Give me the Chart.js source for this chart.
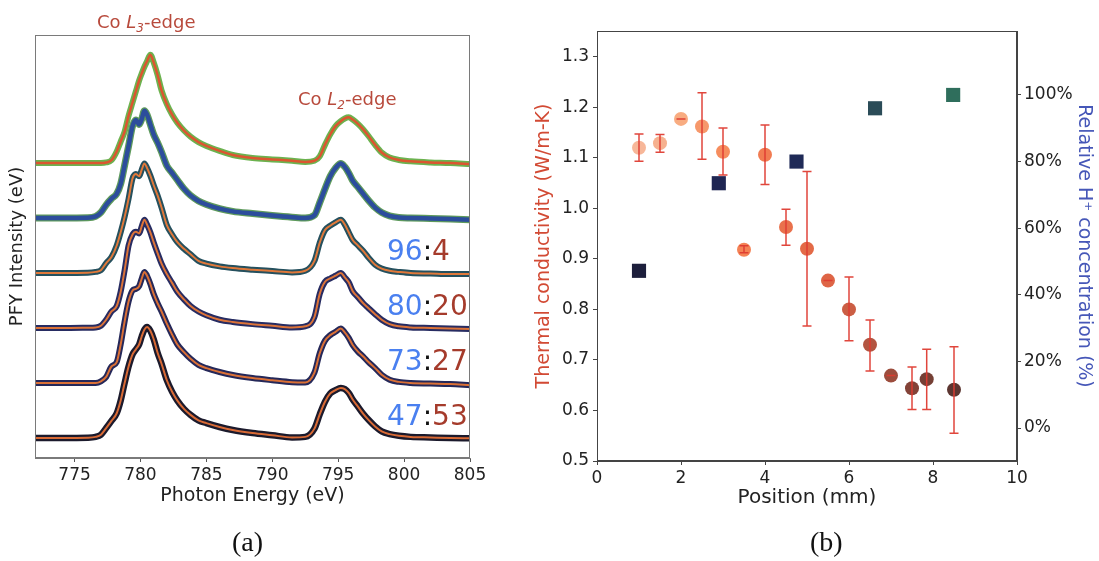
<!DOCTYPE html>
<html>
<head>
<meta charset="utf-8">
<script src="https://cdn.jsdelivr.net/npm/chart.js@4.4.1/dist/chart.umd.min.js"></script>
<style>
  html, body { margin: 0; padding: 0; background: #fff; }
  #figure { position: relative; width: 1099px; height: 561px; overflow: hidden; font-family: "DejaVu Sans", sans-serif; }
  #figure canvas { position: absolute; left: 0; top: 0; }
  .note { position: absolute; white-space: nowrap; line-height: 1; }
  .edge { font-size: 18px; color: #b84a3c; }
  .edge sub { font-size: 12px; font-style: italic; vertical-align: -4px; line-height: 0; }
  .ratio { font-size: 28px; color: #111; }
  .ratio .co { color: #4a80f0; }
  .ratio .h { color: #a53b2b; }
  .caption { font-family: "Liberation Serif", "DejaVu Serif", serif; font-size: 28px; color: #111; }
</style>
</head>
<body>
<div id="figure">
  <canvas id="pfyChart" width="1099" height="561"></canvas>
  <canvas id="kappaChart" width="1099" height="561"></canvas>

  <div class="note edge" style="left:97px; top:13px;">Co <i>L</i><sub>3</sub>-edge</div>
  <div class="note edge" style="left:298px; top:90px;">Co <i>L</i><sub>2</sub>-edge</div>

  <div class="note ratio" style="left:387px; top:237px;"><span class="co">96</span>:<span class="h">4</span></div>
  <div class="note ratio" style="left:387px; top:292px;"><span class="co">80</span>:<span class="h">20</span></div>
  <div class="note ratio" style="left:387px; top:347px;"><span class="co">73</span>:<span class="h">27</span></div>
  <div class="note ratio" style="left:387px; top:402px;"><span class="co">47</span>:<span class="h">53</span></div>

  <div class="note caption" style="left:232px; top:528px;">(a)</div>
  <div class="note caption" style="left:810px; top:528px;">(b)</div>
</div>

<script>
// ---------- (a) Co L-edge PFY spectra ----------
const energy = [772, 774, 776, 776.6, 777.0, 777.4, 777.8, 778.2, 778.5, 778.8, 779.1, 779.4, 779.65, 779.9,
  780.1, 780.3, 780.5, 780.75, 781.0, 781.3, 781.6, 782.0, 782.4, 782.8, 783.3, 783.8, 784.4, 785.0, 786.0,
  787.0, 788.5, 790.0, 791.5, 792.5, 793.2, 793.6, 794.0, 794.4, 794.8, 795.2, 795.5, 795.8, 796.1, 796.5,
  796.9, 797.3, 797.8, 798.3, 798.9, 799.6, 800.5, 802.0, 803.5, 805.0];

const pfyRefOrange = [0, 0, 0, 0, 0, 0.01, 0.05, 0.21, 0.39, 0.57, 0.86, 1.10, 1.30, 1.50, 1.63, 1.75, 1.85,
  1.97, 1.83, 1.60, 1.32, 1.07, 0.88, 0.73, 0.59, 0.48, 0.38, 0.31, 0.22, 0.145, 0.09, 0.065, 0.04, 0.02,
  0.04, 0.12, 0.33, 0.52, 0.67, 0.76, 0.81, 0.83, 0.79, 0.71, 0.61, 0.49, 0.33, 0.19, 0.10, 0.055, 0.03,
  0.01, 0.0, -0.02];

const pfyRefBlue = [0, 0, 0.005, 0.03, 0.1, 0.24, 0.35, 0.44, 0.62, 0.96, 1.31, 1.67, 1.78, 1.70, 1.80, 1.95,
  1.88, 1.70, 1.52, 1.37, 1.20, 0.95, 0.82, 0.69, 0.53, 0.41, 0.31, 0.245, 0.17, 0.12, 0.08, 0.045, 0.015,
  0.0, 0.05, 0.28, 0.53, 0.76, 0.91, 0.99, 0.93, 0.82, 0.68, 0.56, 0.44, 0.32, 0.19, 0.10, 0.04, 0.01, 0.0,
  -0.01, -0.02, -0.03];

const pfy96to4 = [0, 0, 0.005, 0.02, 0.05, 0.18, 0.29, 0.50, 0.74, 1.02, 1.35, 1.72, 1.80, 1.76, 1.88, 1.99,
  1.91, 1.77, 1.60, 1.41, 1.19, 0.87, 0.70, 0.56, 0.44, 0.34, 0.22, 0.17, 0.12, 0.09, 0.06, 0.035, 0.01,
  0.04, 0.22, 0.55, 0.78, 0.86, 0.92, 0.97, 0.88, 0.74, 0.60, 0.50, 0.40, 0.28, 0.15, 0.08, 0.04, 0.02, 0.0,
  -0.01, -0.02, -0.02];

const pfy80to20 = [0, 0, 0.005, 0.01, 0.04, 0.15, 0.30, 0.40, 0.66, 1.05, 1.50, 1.70, 1.75, 1.72, 1.85, 1.97,
  1.88, 1.74, 1.56, 1.36, 1.17, 0.98, 0.82, 0.66, 0.52, 0.40, 0.30, 0.23, 0.15, 0.11, 0.07, 0.04, 0.01,
  0.03, 0.20, 0.62, 0.84, 0.90, 0.95, 1.0, 0.92, 0.83, 0.67, 0.56, 0.45, 0.36, 0.25, 0.15, 0.07, 0.03, 0.01,
  0.0, -0.01, -0.02];

const pfy73to27 = [0, 0, 0, 0, 0.03, 0.11, 0.30, 0.38, 0.70, 1.12, 1.48, 1.68, 1.71, 1.76, 1.90, 2.02, 1.95,
  1.80, 1.62, 1.45, 1.30, 1.08, 0.88, 0.70, 0.56, 0.44, 0.33, 0.27, 0.20, 0.145, 0.09, 0.05, 0.015, 0.01,
  0.19, 0.54, 0.77, 0.87, 0.93, 0.99, 0.92, 0.82, 0.69, 0.57, 0.48, 0.38, 0.27, 0.15, 0.06, 0.02, 0.0,
  -0.01, -0.02, -0.04];

const pfy47to53 = [0, 0, 0.005, 0.02, 0.06, 0.18, 0.31, 0.45, 0.68, 1.00, 1.30, 1.52, 1.61, 1.70, 1.85, 1.97,
  2.02, 1.95, 1.80, 1.55, 1.35, 1.05, 0.84, 0.68, 0.53, 0.42, 0.32, 0.27, 0.20, 0.145, 0.09, 0.05, 0.01,
  0.02, 0.17, 0.43, 0.66, 0.81, 0.87, 0.91, 0.89, 0.82, 0.70, 0.57, 0.44, 0.33, 0.21, 0.12, 0.07, 0.04, 0.02,
  0.01, 0.0, -0.005];

// vertical stacking offset of each spectrum (one unit per trace)
const stackOffsets = [5, 4, 3, 2, 1, 0];
const energyTicks = [775, 780, 785, 790, 795, 800, 805];

// ---------- (b) thermal conductivity and H+ concentration ----------
const kappaPosition = [1.0, 1.5, 2.0, 2.5, 3.0, 3.5, 4.0, 4.5, 5.0, 5.5, 6.0, 6.5, 7.0, 7.5, 7.85, 8.5];
const kappaValue    = [1.120, 1.129, 1.177, 1.162, 1.112, 0.918, 1.106, 0.963, 0.920, 0.857, 0.800, 0.730, 0.669, 0.644, 0.662, 0.641];
const kappaLow      = [1.093, 1.111, 1.177, 1.097, 1.066, 0.912, 1.047, 0.927, 0.767, 0.857, 0.738, 0.678, 0.669, 0.602, 0.602, 0.555];
const kappaHigh     = [1.147, 1.146, 1.177, 1.229, 1.159, 0.926, 1.165, 0.998, 1.073, 0.857, 0.864, 0.779, 0.669, 0.686, 0.721, 0.726];

const hPosition = [1.0, 2.9, 4.75, 6.62, 8.48];
const hFraction = [0.472, 0.735, 0.80, 0.96, 1.0];

const positionTicks = [0, 2, 4, 6, 8, 10];
const kappaTicks = [0.5, 0.6, 0.7, 0.8, 0.9, 1.0, 1.1, 1.2, 1.3];
const fractionTicks = [0, 0.2, 0.4, 0.6, 0.8, 1.0];

// ---------- drawing helpers ----------
const boxFrame = {
  id: 'boxFrame',
  afterDraw(chart, args, opts) {
    const { ctx, chartArea: a } = chart;
    ctx.save();
    ctx.strokeStyle = opts.color;
    ctx.lineWidth = 1;
    ctx.strokeRect(Math.round(a.left) + 0.5, Math.round(a.top) + 0.5,
      Math.round(a.right - a.left) - 1, Math.round(a.bottom - a.top) - 1);
    ctx.restore();
  }
};

const errorBars = {
  id: 'errorBars',
  afterDatasetsDraw(chart, args, opts) {
    const { ctx } = chart;
    const xs = chart.scales.x, ys = chart.scales.y;
    ctx.save();
    ctx.strokeStyle = opts.color;
    ctx.lineWidth = opts.width;
    kappaPosition.forEach((p, i) => {
      const px = xs.getPixelForValue(p);
      const top = ys.getPixelForValue(kappaHigh[i]);
      const bot = ys.getPixelForValue(kappaLow[i]);
      ctx.beginPath();
      ctx.moveTo(px, top); ctx.lineTo(px, bot);
      ctx.moveTo(px - opts.cap, top); ctx.lineTo(px + opts.cap, top);
      ctx.moveTo(px - opts.cap, bot); ctx.lineTo(px + opts.cap, bot);
      ctx.stroke();
    });
    ctx.restore();
  }
};

const tickFont = { family: 'DejaVu Sans', size: 17 };
const fixedTicks = list => scale => { scale.ticks = list.map(v => ({ value: v })); };

// ---------- (a) chart ----------
const spectra = [
  { values: pfyRefOrange, edge: '#6cb24f', core: '#dc5530', edgeW: 6, coreW: 2.5 },
  { values: pfyRefBlue,   edge: '#5e9a5c', core: '#2c4d9c', edgeW: 7, coreW: 4.5 },
  { values: pfy96to4,     edge: '#25505e', core: '#e0783a', edgeW: 6, coreW: 2 },
  { values: pfy80to20,    edge: '#272c62', core: '#dc7338', edgeW: 6, coreW: 2 },
  { values: pfy73to27,    edge: '#252859', core: '#da7036', edgeW: 6, coreW: 2 },
  { values: pfy47to53,    edge: '#1b1a2c', core: '#d86a35', edgeW: 6.5, coreW: 2 }
];

const pfyDatasets = [];
spectra.forEach((s, k) => {
  const pts = energy.map((e, i) => ({ x: e, y: s.values[i] + stackOffsets[k] }));
  const layer = 2 * stackOffsets[k];
  pfyDatasets.push({ data: pts, borderColor: s.edge, borderWidth: s.edgeW, order: layer + 1 });
  pfyDatasets.push({ data: pts, borderColor: s.core, borderWidth: s.coreW, order: layer });
});

new Chart(document.getElementById('pfyChart'), {
  type: 'line',
  data: { datasets: pfyDatasets },
  plugins: [boxFrame],
  options: {
    responsive: false,
    animation: false,
    devicePixelRatio: 1,
    events: [],
    layout: { padding: { left: 0, top: 35, right: 629, bottom: 51 } },
    elements: {
      point: { radius: 0 },
      line: { cubicInterpolationMode: 'monotone', borderJoinStyle: 'round', borderCapStyle: 'round', fill: false }
    },
    plugins: { legend: { display: false }, tooltip: { enabled: false }, boxFrame: { color: '#7a7a7a' } },
    scales: {
      x: {
        type: 'linear', min: 772, max: 805,
        afterBuildTicks: fixedTicks(energyTicks),
        afterFit: s => { s.height = 52; },
        ticks: { font: tickFont, color: '#222', padding: 3, maxRotation: 0 },
        grid: { display: true, drawOnChartArea: false, drawTicks: true, tickLength: 4, color: '#555' },
        border: { display: true, color: '#7a7a7a' },
        title: { display: true, text: 'Photon Energy (eV)', color: '#222',
                 font: { family: 'DejaVu Sans', size: 19 }, padding: { top: 0, bottom: 3 } }
      },
      y: {
        type: 'linear', min: -0.364, max: 7.327,
        afterFit: s => { s.width = 35; },
        ticks: { display: false },
        grid: { display: false },
        border: { display: true, color: '#7a7a7a' },
        title: { display: true, text: 'PFY Intensity (eV)', color: '#222',
                 font: { family: 'DejaVu Sans', size: 18 }, padding: { top: 7, bottom: 0 } }
      }
    }
  }
});

// ---------- (b) chart ----------
const kappaColors = ['#f6ad8b', '#f5a680', '#f7a070', '#f58a56', '#f57d48', '#f2713e', '#ef6a3a', '#e65d33',
  '#df552e', '#d9502c', '#c4482a', '#a93e27', '#8e3422', '#72291d', '#622419', '#451a15'];
const hColors = ['#1d1f3c', '#1f2653', '#1f2a57', '#2b4c58', '#2f6e5c'];

new Chart(document.getElementById('kappaChart'), {
  type: 'scatter',
  data: {
    datasets: [
      {
        data: hPosition.map((p, i) => ({ x: p, y: hFraction[i] })),
        yAxisID: 'y1',
        pointStyle: 'rect',
        pointRadius: 10,
        pointBackgroundColor: hColors,
        pointBorderWidth: 0,
        order: 0
      },
      {
        data: kappaPosition.map((p, i) => ({ x: p, y: kappaValue[i] })),
        yAxisID: 'y',
        pointStyle: 'circle',
        pointRadius: 7,
        pointBackgroundColor: kappaColors.map(c => c + 'e0'),
        pointBorderWidth: 0,
        order: 1
      }
    ]
  },
  plugins: [errorBars, boxFrame],
  options: {
    responsive: false,
    animation: false,
    devicePixelRatio: 1,
    events: [],
    layout: { padding: { left: 527, top: 31, right: 4, bottom: 50 } },
    plugins: {
      legend: { display: false }, tooltip: { enabled: false },
      boxFrame: { color: '#444' },
      errorBars: { color: 'rgba(222,60,50,0.95)', width: 1.5, cap: 4.5 }
    },
    scales: {
      x: {
        type: 'linear', min: 0, max: 10,
        afterBuildTicks: fixedTicks(positionTicks),
        afterFit: s => { s.height = 50; },
        ticks: { font: tickFont, color: '#222', padding: 3, maxRotation: 0 },
        grid: { display: true, drawOnChartArea: false, drawTicks: true, tickLength: 4, color: '#444' },
        border: { display: true, color: '#444' },
        title: { display: true, text: 'Position (mm)', color: '#222',
                 font: { family: 'DejaVu Sans', size: 20 }, padding: { top: 0, bottom: 1 } }
      },
      y: {
        type: 'linear', position: 'left', min: 0.5, max: 1.351,
        afterBuildTicks: fixedTicks(kappaTicks),
        afterFit: s => { s.width = 70; },
        ticks: { font: tickFont, color: '#222', padding: 4, callback: v => v.toFixed(1) },
        grid: { display: true, drawOnChartArea: false, drawTicks: true, tickLength: 4, color: '#444' },
        border: { display: true, color: '#444' },
        title: { display: true, text: 'Thermal conductivity (W/m-K)', color: '#d24a34',
                 font: { family: 'DejaVu Sans', size: 19 }, padding: { top: 6, bottom: 0 } }
      },
      y1: {
        type: 'linear', position: 'right', min: -0.099, max: 1.192,
        afterBuildTicks: fixedTicks(fractionTicks),
        afterFit: s => { s.width = 78; },
        ticks: { font: tickFont, color: '#222', padding: 3, callback: v => Math.round(v * 100) + '%' },
        grid: { display: true, drawOnChartArea: false, drawTicks: true, tickLength: 4, color: '#444' },
        border: { display: true, color: '#444' },
        title: { display: true, text: 'Relative H\u207A concentration (%)', color: '#4657b8',
                 font: { family: 'DejaVu Sans', size: 19 }, padding: { top: 0, bottom: 0 } }
      }
    }
  }
});
</script>
</body>
</html>
